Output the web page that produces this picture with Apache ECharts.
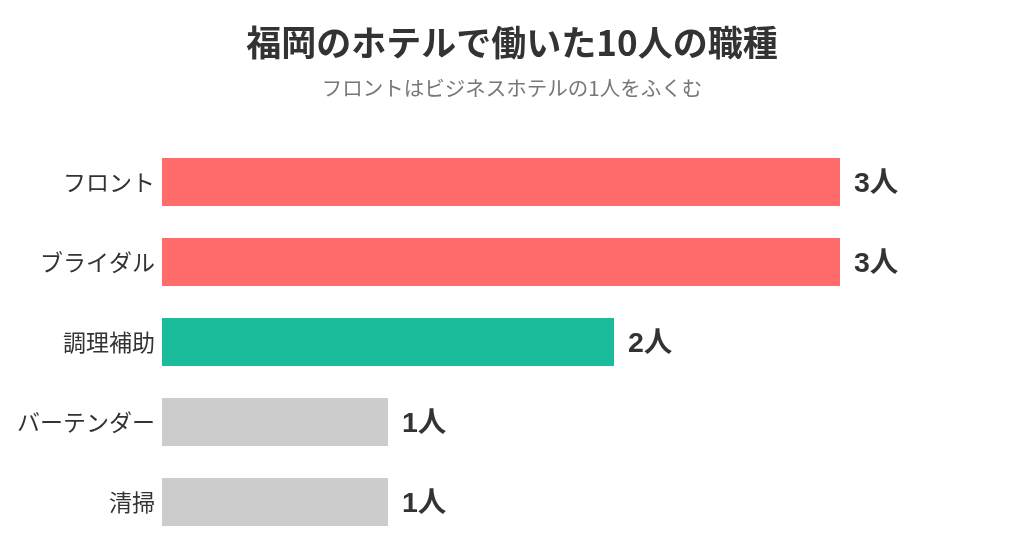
<!DOCTYPE html>
<html><head><meta charset="utf-8">
<script src="https://cdn.jsdelivr.net/npm/echarts@6/dist/echarts.min.js"></script>
<style>html,body{margin:0;padding:0;background:#fff}#c{width:1024px;height:560px}</style>
</head><body><div id="c"></div>
<script>
const categories = ['フロント','ブライダル','調理補助','バーテンダー','清掃'];
const values = [3,3,2,1,1];
const colors = ['#FF6B6B','#FF6B6B','#1ABC9C','#CCCCCC','#CCCCCC'];
const font = '"Noto Sans CJK JP", "Noto Sans", sans-serif';
const chart = echarts.init(document.getElementById('c'));
chart.setOption({
  backgroundColor:'#fff',
  animation:false,
  title:{
    text:'福岡のホテルで働いた10人の職種',
    subtext:'フロントはビジネスホテルの1人をふくむ',
    left:'center', top:20, itemGap:18,
    textStyle:{fontFamily:font,fontSize:35,fontWeight:'bold',color:'#333'},
    subtextStyle:{fontFamily:font,fontSize:20.5,color:'#777'}
  },
  grid:{left:162,right:184,top:142,bottom:18,containLabel:false},
  xAxis:{type:'value',min:0,max:3,show:false},
  yAxis:{type:'category',data:categories,inverse:true,
    axisLine:{show:false},axisTick:{show:false},
    axisLabel:{fontFamily:font,fontSize:23,color:'#333',margin:7}},
  series:[{type:'bar',barWidth:48,
    data:values.map((v,i)=>({value:v,itemStyle:{color:colors[i]}})),
    label:{show:true,position:'right',distance:14,offset:[0,2],formatter:'{c}人',
      fontFamily:'"Liberation Sans", "Noto Sans CJK JP", sans-serif',fontSize:28.5,fontWeight:'bold',color:'#333'}}]
});
</script></body></html>
